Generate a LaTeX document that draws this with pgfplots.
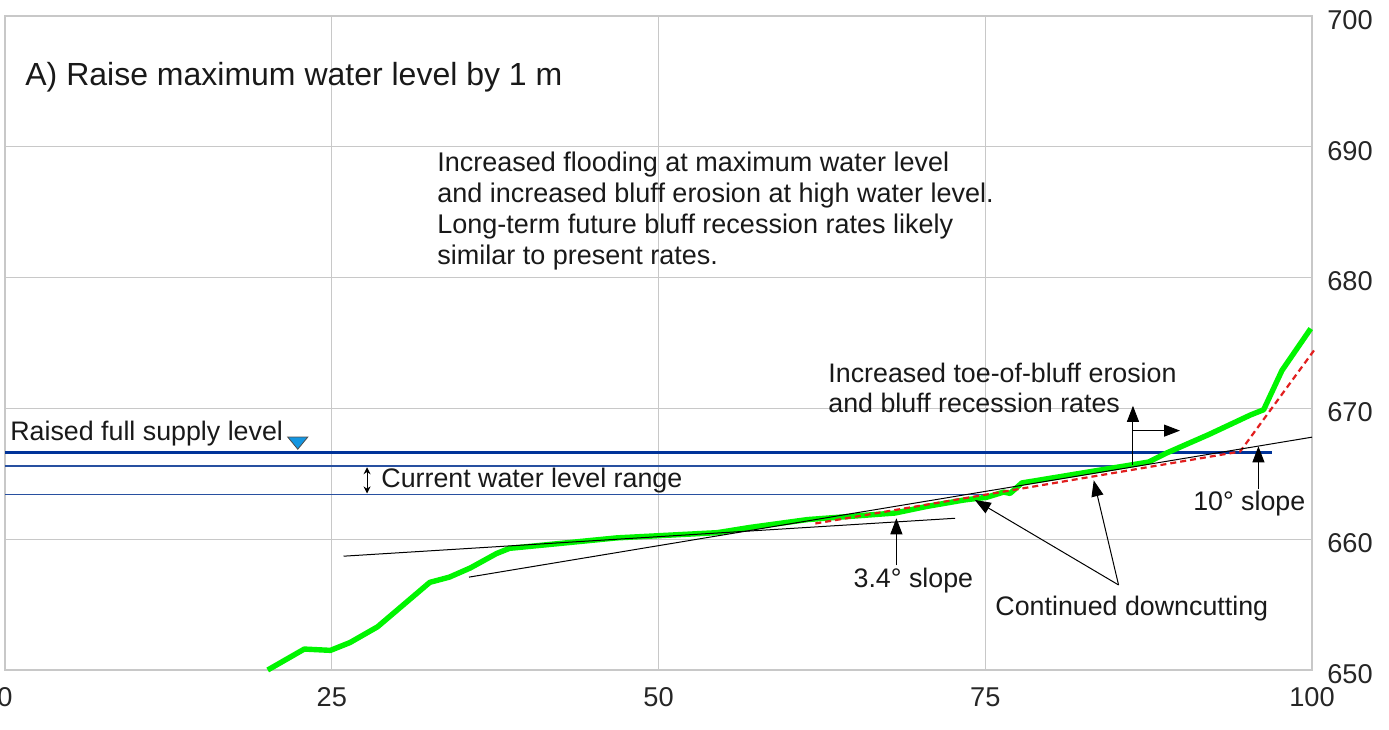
\documentclass[border=0pt]{standalone}
\usepackage{fontspec}
\setmainfont{Liberation Sans}
\usepackage{pgfplots}
\pgfplotsset{compat=1.18}
\usetikzlibrary{arrows.meta}
\definecolor{gridgray}{RGB}{200,200,200}
\definecolor{terrain}{RGB}{0,245,0}
\definecolor{fsl}{RGB}{0,51,153}
\definecolor{wl}{RGB}{40,80,160}
\definecolor{reddash}{RGB}{225,30,30}
\definecolor{tri}{RGB}{20,150,225}
\begin{document}
\fontsize{13.4}{15.5}\selectfont
\begin{tikzpicture}[every node/.style={text=black!90}]
\begin{axis}[
  scale only axis, width=653.5pt, height=327pt,
  xmin=0, xmax=100, ymin=650, ymax=700,
  xtick={0,25,50,75,100}, ytick={650,660,...,700},
  grid=major, grid style={line width=0.6pt, color=gridgray},
  axis line style={line width=0.6pt, color=gridgray},
  major tick length=0pt,
  yticklabel pos=right,
  /pgf/number format/assume math mode=true,
  ticklabel style={font=\fontsize{13.6}{15}\selectfont, text=black!85},
  xticklabel style={yshift=-4pt},
  yticklabel style={yshift=-2pt, xshift=3pt},
  clip=false,
]
\coordinate (bl) at (rel axis cs:0,0);
\coordinate (tr) at (rel axis cs:1,1);
% water levels
\addplot[fsl, line width=1.5pt] coordinates {(0,666.6) (96.9,666.6)};
\addplot[wl, line width=0.6pt] coordinates {(0,665.6) (86.3,665.6)};
\addplot[wl, line width=0.6pt] coordinates {(0,663.4) (75.1,663.4)};
% terrain
\addplot[terrain, line width=2.7pt, line join=round] coordinates {
(20.1,650.0) (22.9,651.6) (24.9,651.5) (26.4,652.1) (28.5,653.3) (30.5,655.0)
(32.5,656.7) (34.0,657.1) (35.6,657.8) (37.6,658.9) (38.6,659.3) (41.7,659.6)
(46.8,660.1) (54.5,660.5) (57.0,660.9) (61.4,661.5) (68.1,662.0) (70.5,662.5)
(73.4,663.0) (75.1,663.2) (76.4,663.6) (76.9,663.5) (77.8,664.3) (86.3,665.7)
(87.5,665.9) (88.9,666.6) (92.1,668.0) (95.3,669.5) (96.3,669.9) (97.7,672.9)
(99.9,676.1)};
% projected profile
\addplot[reddash, line width=1.1pt, dash pattern=on 3pt off 2pt] coordinates {
(62.0,661.2) (94.5,666.7) (100.2,674.5)};
% slope lines
\addplot[black, line width=0.5pt] coordinates {(25.9,658.7) (72.7,661.6)};
\addplot[black, line width=0.5pt] coordinates {(35.5,657.1) (100,667.8)};
% marker
\addplot[only marks, mark=triangle*, mark size=5.8pt,
  mark options={rotate=180, yscale=0.7, fill=tri, draw=black!70, line width=0.4pt}]
  coordinates {(22.4,667.5)};
% arrows
\draw[black, line width=0.5pt, {Stealth[width=3.5pt,length=3.5pt]}-{Stealth[width=3.5pt,length=3.5pt]}]
  (axis cs:27.7,665.5) -- (axis cs:27.7,663.5);
\draw[black, line width=0.5pt, -{Triangle[width=6pt,length=8pt]}]
  (axis cs:68.2,658.0) -- (axis cs:68.2,661.6);
\draw[black, line width=0.5pt, -{Triangle[width=6pt,length=8pt]}]
  (axis cs:85.2,656.5) -- (axis cs:74.2,663.0);
\draw[black, line width=0.5pt, -{Triangle[width=6pt,length=8pt]}]
  (axis cs:85.2,656.5) -- (axis cs:83.3,664.5);
\draw[black, line width=0.5pt, -{Triangle[width=6pt,length=8pt]}]
  (axis cs:95.9,663.8) -- (axis cs:95.9,667.1);
\draw[black, line width=0.5pt, -{Triangle[width=6pt,length=8pt]}]
  (axis cs:86.3,665.7) -- (axis cs:86.3,670.2);
\draw[black, line width=0.5pt, -{Triangle[width=6pt,length=8pt]}]
  (axis cs:86.3,668.3) -- (axis cs:89.9,668.3);
% texts
\node[anchor=west, inner sep=0pt, font=\fontsize{16}{19}\selectfont] at (axis cs:1.53,695.3) {A) Raise maximum water level by 1 m};
\node[anchor=west, inner sep=0pt, align=left, font=\fontsize{13.5}{15.5}\selectfont] at (axis cs:33.05,685.1)
  {Increased flooding at maximum water level\\and increased bluff erosion at high water level.\\Long-term future bluff recession rates likely\\similar to present rates.};
\node[anchor=west, inner sep=0pt] at (axis cs:0.38,668.1) {Raised full supply level};
\node[anchor=west, inner sep=0pt] at (axis cs:28.77,664.45) {Current water level range};
\node[anchor=west, inner sep=0pt, align=left, font=\fontsize{13.4}{15}\selectfont] at (axis cs:62.97,671.55)
  {Increased toe-of-bluff erosion\\and bluff recession rates};
\node at (axis cs:69.5,656.8) {3.4° slope};
\node[anchor=west, inner sep=0pt] at (axis cs:75.75,654.7) {Continued downcutting};
\node at (axis cs:95.2,662.7) {10° slope};
\end{axis}
\pgfresetboundingbox
\path[use as bounding box] ([xshift=-2.5pt,yshift=8pt]bl |- tr) rectangle ([xshift=38.5pt,yshift=-30pt]tr |- bl);
\end{tikzpicture}
\end{document}
